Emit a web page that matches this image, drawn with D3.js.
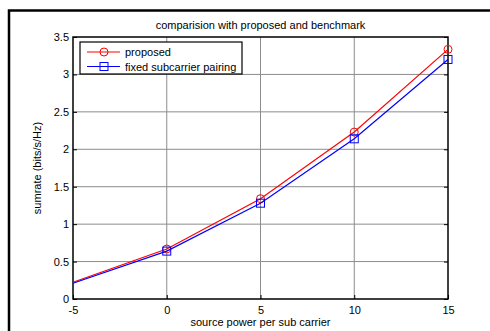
<!DOCTYPE html>
<html>
<head>
<meta charset="utf-8">
<script src="https://cdn.jsdelivr.net/npm/d3@7"></script>
<style>
  body { margin: 0; background: #fff; }
  svg { display: block; font-family: "Liberation Sans", Arial, sans-serif; }
</style>
</head>
<body>
<svg id="chart" width="490" height="331"></svg>
<script>
// source power per sub carrier
const power = [-5, 0, 5, 10, 15];
// sumrate values
const proposed = [0.223, 0.668, 1.34, 2.23, 3.335];
const fixedPairing = [0.21, 0.64, 1.28, 2.14, 3.20];
const xTicks = [-5, 0, 5, 10, 15];
const yTicks = [0, 0.5, 1, 1.5, 2, 2.5, 3, 3.5];

const svg = d3.select("#chart");
const margin = { left: 73, top: 37, right: 42, bottom: 32 };
const width = 490 - margin.left - margin.right;
const height = 331 - margin.top - margin.bottom;

// outer figure border (only top and left visible)
svg.append("path")
  .attr("d", "M9,331 V10.5 H490")
  .attr("fill", "none")
  .attr("stroke", "#000")
  .attr("stroke-width", 2.5);

const g = svg.append("g")
  .attr("transform", "translate(" + margin.left + "," + margin.top + ")");

const x = d3.scaleLinear().domain([-5, 15]).range([0, width]);
const y = d3.scaleLinear().domain([0, 3.5]).range([height, 0]);

// grid
g.append("g").selectAll("line").data(xTicks.slice(1, -1)).enter().append("line")
  .attr("x1", d => x(d)).attr("x2", d => x(d))
  .attr("y1", 0).attr("y2", height)
  .attr("stroke", "#8c8c8c").attr("stroke-width", 1);
g.append("g").selectAll("line").data(yTicks.slice(1, -1)).enter().append("line")
  .attr("y1", d => y(d)).attr("y2", d => y(d))
  .attr("x1", 0).attr("x2", width)
  .attr("stroke", "#8c8c8c").attr("stroke-width", 1);

// axes (hyphen minus like the original)
const fmt = d => String(d);
const xAxis = g.append("g")
  .attr("transform", "translate(0," + height + ")")
  .call(d3.axisBottom(x).tickValues(xTicks).tickSize(-4).tickPadding(7).tickFormat(fmt));
const yAxis = g.append("g")
  .call(d3.axisLeft(y).tickValues(yTicks).tickSize(-4).tickPadding(4).tickFormat(fmt));
[xAxis, yAxis].forEach(a => {
  a.select(".domain").remove();
  a.selectAll("text").attr("font-size", 11).attr("fill", "#000")
    .attr("font-family", "Liberation Sans, Arial, sans-serif");
  a.selectAll("line").attr("stroke", "#000");
});
// right side ticks
g.append("g").attr("transform", "translate(" + width + ",0)")
  .call(d3.axisRight(y).tickValues(yTicks).tickSize(-4).tickFormat(""))
  .call(a => a.select(".domain").remove());

// frame
g.append("rect")
  .attr("width", width).attr("height", height)
  .attr("fill", "none").attr("stroke", "#000").attr("stroke-width", 1.5);

// series
const series = [
  { name: "proposed", values: proposed, color: "#ff0000", marker: "circle" },
  { name: "fixed subcarrier pairing", values: fixedPairing, color: "#0000ff", marker: "square" }
];
const line = d3.line().x((d, i) => x(power[i])).y(d => y(d));

function drawMarker(sel, s, cx, cy) {
  if (s.marker === "circle") {
    sel.append("circle").attr("cx", cx).attr("cy", cy).attr("r", 4)
      .attr("fill", "none").attr("stroke", s.color).attr("stroke-width", 1);
  } else {
    sel.append("rect").attr("x", cx - 4).attr("y", cy - 4).attr("width", 8).attr("height", 8)
      .attr("fill", "none").attr("stroke", s.color).attr("stroke-width", 1);
  }
}

series.forEach(s => {
  g.append("path").datum(s.values)
    .attr("d", line)
    .attr("fill", "none").attr("stroke", s.color).attr("stroke-width", 1.2);
  s.values.forEach((v, i) => {
    if (power[i] > -5) drawMarker(g, s, x(power[i]), y(v));
  });
});

// legend
const legend = g.append("g").attr("transform", "translate(7,5)");
legend.append("rect").attr("width", 162).attr("height", 32)
  .attr("fill", "#fff").attr("stroke", "#000").attr("stroke-width", 1.2);
series.forEach((s, i) => {
  const ly = 10 + i * 14.5;
  legend.append("line").attr("x1", 7).attr("x2", 40).attr("y1", ly).attr("y2", ly)
    .attr("stroke", s.color).attr("stroke-width", 1);
  drawMarker(legend, s, 24, ly);
  legend.append("text").attr("x", 45).attr("y", ly + 4)
    .attr("font-size", 11).text(s.name);
});

// title and labels
svg.append("text").attr("x", margin.left + width / 2).attr("y", 29)
  .attr("text-anchor", "middle").attr("font-size", 11)
  .text("comparision with proposed and benchmark");
svg.append("text").attr("x", margin.left + width / 2).attr("y", 326)
  .attr("text-anchor", "middle").attr("font-size", 11)
  .text("source power per sub carrier");
svg.append("text")
  .attr("transform", "translate(41," + (margin.top + height / 2) + ") rotate(-90)")
  .attr("text-anchor", "middle").attr("font-size", 11)
  .text("sumrate (bits/s/Hz)");
</script>
</body>
</html>
